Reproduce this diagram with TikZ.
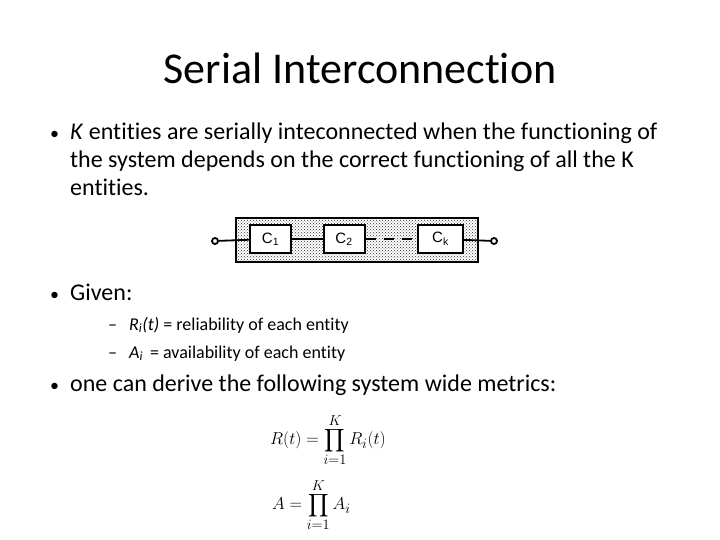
\documentclass[tikz,border=0pt]{standalone}
\usepackage{fontspec}
\setmainfont[Ligatures={NoCommon}]{Carlito}
\newfontfamily\arialf{Liberation Sans}
\usetikzlibrary{patterns}
\newcommand{\bigprod}{\mathop{\vcenter{\hbox{\scalebox{1.6}{$\displaystyle\prod$}}}}\limits}
\begin{document}
\begin{tikzpicture}[x=1pt,y=-1pt,
  txt/.style={anchor=base west,inner sep=0pt,font=\fontsize{24}{28}\selectfont},
  sub/.style={anchor=base west,inner sep=0pt,font=\fontsize{18}{21}\selectfont},
  comp/.style={draw=black,line width=2pt,fill=white,minimum width=41pt,minimum height=28pt,inner sep=0pt,font=\arialf\fontsize{15}{17}\selectfont},
  term/.style={circle,draw=black,line width=1.8pt,fill=white,minimum size=6pt,inner sep=0pt},
  wire/.style={line width=1.8pt}]
\useasboundingbox (0,0) rectangle (720,540);
\node[inner sep=0pt,font=\fontsize{44}{52}\selectfont] (title) at (360,68) {Serial Interconnection};
\node[txt,font=\fontsize{18}{20}\selectfont] (b1) at (50,140) {•};
\node[txt] (l1) at (70,140) {\textit{K} entities are serially inteconnected when the functioning of};
\node[txt] (l2) at (70,168) {the system depends on the correct functioning of all the K};
\node[txt] (l3) at (70,196) {entities.};
% block diagram
\node[draw=black,line width=2pt,pattern=crosshatch dots,pattern color=black!80,minimum width=242pt,minimum height=44pt,inner sep=0pt] (outer) at (357,240) {};
\node[comp] (c1) at (270.5,239) {C\textsubscript{1}};
\node[comp] (c2) at (344,239) {C\textsubscript{2}};
\node[comp,minimum width=45pt] (ck) at (440.5,239) {C\textsubscript{k}};
\node[term] (tin) at (215,241) {};
\node[term] (tout) at (494,241) {};
\draw[wire] (tin) -- (c1);
\draw[wire] (c1) -- (c2);
\draw[wire,dash pattern=on 10pt off 8pt] (c2) -- (ck);
\draw[wire] (ck) -- (tout);
\node[txt,font=\fontsize{18}{20}\selectfont] (b2) at (50,300) {•};
\node[txt] (g) at (70,300) {Given:};
\node[sub] (d1) at (108,330) {–};
\node[sub] (s1) at (129,330) {\textit{R\textsubscript{i}(t)} = reliability of each entity};
\node[sub] (d2) at (108,358) {–};
\node[sub] (s2) at (129,358) {\textit{A\textsubscript{i}} \,= availability of each entity};
\node[txt,font=\fontsize{18}{20}\selectfont] (b3) at (50,391) {•};
\node[txt] (l4) at (70,391) {one can derive the following system wide metrics:};
\node[anchor=west,inner sep=0pt,font=\fontsize{19}{22}\selectfont] (eq1) at (270,440) {$\displaystyle R(t)=\bigprod_{i=1}^{K}R_i(t)$};
\node[anchor=west,inner sep=0pt,font=\fontsize{19}{22}\selectfont] (eq2) at (272,505) {$\displaystyle A=\bigprod_{i=1}^{K}A_i$};
\end{tikzpicture}
\end{document}
